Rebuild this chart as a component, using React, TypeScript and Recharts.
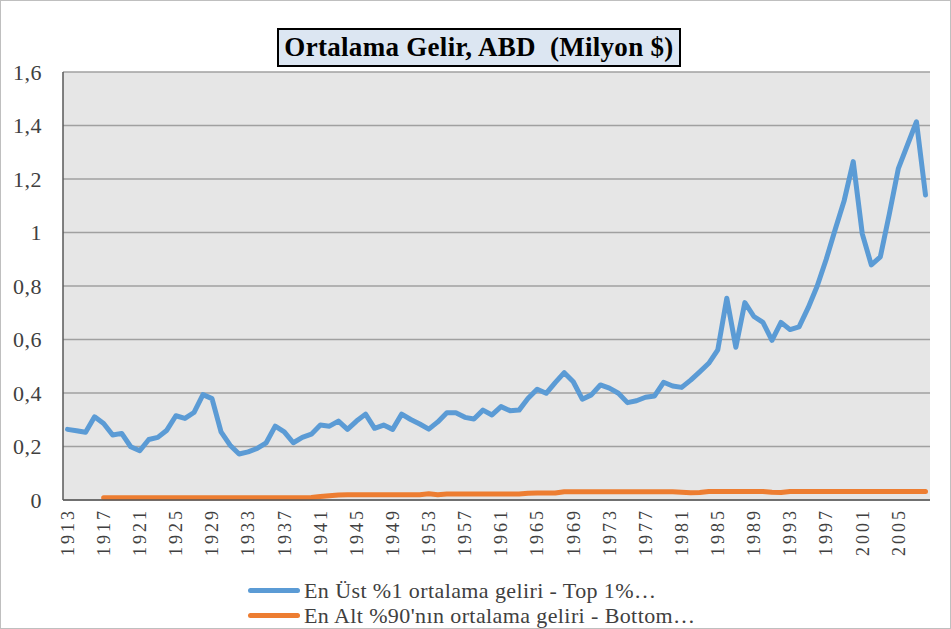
import { LineChart, Line, XAxis, YAxis, CartesianGrid, Legend } from "recharts";

const years = [
  1913, 1914, 1915, 1916, 1917, 1918, 1919, 1920, 1921, 1922, 1923, 1924,
  1925, 1926, 1927, 1928, 1929, 1930, 1931, 1932, 1933, 1934, 1935, 1936,
  1937, 1938, 1939, 1940, 1941, 1942, 1943, 1944, 1945, 1946, 1947, 1948,
  1949, 1950, 1951, 1952, 1953, 1954, 1955, 1956, 1957, 1958, 1959, 1960,
  1961, 1962, 1963, 1964, 1965, 1966, 1967, 1968, 1969, 1970, 1971, 1972,
  1973, 1974, 1975, 1976, 1977, 1978, 1979, 1980, 1981, 1982, 1983, 1984,
  1985, 1986, 1987, 1988, 1989, 1990, 1991, 1992, 1993, 1994, 1995, 1996,
  1997, 1998, 1999, 2000, 2001, 2002, 2003, 2004, 2005, 2006, 2007, 2008,
];

// top 1% average income, million $
const top1 = [
  0.264, 0.259, 0.253, 0.311, 0.286, 0.243, 0.249, 0.199, 0.184, 0.226, 0.234, 0.261,
  0.315, 0.305, 0.327, 0.394, 0.379, 0.255, 0.205, 0.172, 0.18, 0.193, 0.214, 0.276,
  0.255, 0.214, 0.234, 0.246, 0.28, 0.276, 0.295, 0.264, 0.295, 0.321, 0.268, 0.28,
  0.264, 0.321, 0.301, 0.284, 0.265, 0.292, 0.326, 0.326, 0.309, 0.303, 0.336, 0.318,
  0.349, 0.334, 0.336, 0.38, 0.414, 0.399, 0.439, 0.476, 0.442, 0.377, 0.393, 0.43,
  0.418, 0.399, 0.364, 0.371, 0.384, 0.389, 0.44, 0.426, 0.421, 0.448, 0.479, 0.511,
  0.561, 0.754, 0.571, 0.738, 0.686, 0.664, 0.597, 0.664, 0.637, 0.647, 0.718, 0.799,
  0.899, 1.011, 1.12, 1.265, 0.995, 0.879, 0.909, 1.07, 1.24, 1.327, 1.414, 1.14,
];

// bottom 90% average income, million $
const bottom90 = [
  null, null, null, null, 0.008, 0.008, 0.008, 0.008, 0.008, 0.008, 0.008, 0.008,
  0.008, 0.008, 0.008, 0.008, 0.008, 0.008, 0.008, 0.008, 0.008, 0.008, 0.008, 0.008,
  0.008, 0.008, 0.008, 0.009, 0.013, 0.016, 0.019, 0.02, 0.02, 0.02, 0.02, 0.02,
  0.02, 0.02, 0.02, 0.02, 0.023, 0.02, 0.022, 0.022, 0.022, 0.022, 0.022, 0.022,
  0.022, 0.022, 0.022, 0.025, 0.026, 0.026, 0.026, 0.031, 0.031, 0.031, 0.031, 0.031,
  0.031, 0.031, 0.031, 0.031, 0.031, 0.031, 0.031, 0.031, 0.029, 0.027, 0.028, 0.032,
  0.032, 0.032, 0.032, 0.032, 0.032, 0.032, 0.029, 0.028, 0.032, 0.032, 0.032, 0.032,
  0.032, 0.032, 0.032, 0.032, 0.032, 0.032, 0.032, 0.032, 0.032, 0.032, 0.032, 0.032,
];

const yTicks = [0, 0.2, 0.4, 0.6, 0.8, 1, 1.2, 1.4, 1.6];

const top1Label = "En Üst %1 ortalama geliri - Top 1%…";
const bottom90Label = "En Alt %90'nın ortalama geliri - Bottom…";
const legendOrder = [top1Label, bottom90Label];

const data = years.map((year, i) => ({
  year,
  top1: top1[i],
  bottom90: bottom90[i],
}));

const serif = "'Liberation Serif', 'DejaVu Serif', serif";

function YearTick({ x, y, payload }: any) {
  return (
    <text
      x={x}
      y={y}
      transform={`rotate(-90, ${x}, ${y})`}
      textAnchor="end"
      dy="0.35em"
      fill="#404040"
      fontSize={18}
      letterSpacing={3}
      fontFamily={serif}
    >
      {payload.value}
    </text>
  );
}

function LegendBox({ payload }: any) {
  const items = [...(payload || [])].sort(
    (a: any, b: any) => legendOrder.indexOf(a.value) - legendOrder.indexOf(b.value)
  );
  return (
    <div
      style={{
        fontFamily: serif,
        fontSize: 22,
        letterSpacing: 0.4,
        color: "#404040",
      }}
    >
      {items.map((entry: any) => (
        <div
          key={entry.value}
          style={{ display: "flex", alignItems: "center", height: 25 }}
        >
          <span
            style={{
              display: "inline-block",
              width: 52,
              height: 5,
              borderRadius: 3,
              background: entry.color,
              marginRight: 4,
            }}
          />
          <span>{entry.value}</span>
        </div>
      ))}
    </div>
  );
}

export default function App() {
  return (
    <div
      style={{
        position: "absolute",
        left: 0,
        top: 0,
        width: 951,
        height: 629,
        background: "#fff",
        border: "1px solid #bfbfbf",
        boxSizing: "border-box",
      }}
    >
      <div
        style={{
          position: "absolute",
          left: 276,
          top: 27,
          width: 404,
          height: 39,
          boxSizing: "border-box",
          background: "#dce6f2",
          border: "2px solid #000",
          fontFamily: serif,
          fontWeight: "bold",
          fontSize: 27,
          letterSpacing: 0.3,
          color: "#000",
          display: "flex",
          alignItems: "center",
          justifyContent: "center",
          whiteSpace: "pre",
          zIndex: 2,
        }}
      >
        {"Ortalama Gelir, ABD  (Milyon $)"}
      </div>
      <div style={{ position: "absolute", left: -1, top: -1 }}>
        <LineChart
          width={951}
          height={629}
          data={data}
          margin={{ top: 72, right: 21, left: 0, bottom: 0 }}
        >
          <CartesianGrid
            vertical={false}
            stroke="#a0a0a0"
            strokeWidth={1.5}
            fill="#e6e6e6"
          />
          <XAxis
            dataKey="year"
            interval={3}
            tickLine={false}
            tickSize={0}
            tickMargin={8}
            height={129}
            padding={{ left: 4.5, right: 4.5 }}
            axisLine={{ stroke: "#595959", strokeWidth: 1.5 }}
            tick={<YearTick />}
          />
          <XAxis
            xAxisId="top"
            orientation="top"
            dataKey="year"
            height={0}
            tick={false}
            tickLine={false}
            axisLine={{ stroke: "#595959", strokeWidth: 1.5 }}
          />
          <YAxis
            width={63}
            domain={[0, 1.6]}
            ticks={yTicks}
            tickLine={false}
            tickSize={0}
            tickMargin={21}
            axisLine={{ stroke: "#595959", strokeWidth: 1.5 }}
            tick={{
              fill: "#404040",
              fontSize: 22,
              letterSpacing: 0.5,
              fontFamily: serif,
            }}
            tickFormatter={(v: number) => String(v).replace(".", ",")}
          />
          <YAxis
            yAxisId="right"
            orientation="right"
            width={0}
            domain={[0, 1.6]}
            tick={false}
            tickLine={false}
            axisLine={{ stroke: "#595959", strokeWidth: 1.5 }}
          />
          <Legend
            layout="vertical"
            align="center"
            verticalAlign="middle"
            itemSorter={null as any}
            wrapperStyle={{ left: 248, top: 578, width: 600, height: 50 }}
            content={<LegendBox />}
          />
          <Line
            dataKey="top1"
            name={top1Label}
            stroke="#5b9bd5"
            strokeWidth={5}
            strokeLinejoin="round"
            strokeLinecap="round"
            dot={false}
            isAnimationActive={false}
          />
          <Line
            dataKey="bottom90"
            name={bottom90Label}
            stroke="#ed7d31"
            strokeWidth={5}
            strokeLinejoin="round"
            strokeLinecap="round"
            dot={false}
            isAnimationActive={false}
          />
        </LineChart>
      </div>
    </div>
  );
}
